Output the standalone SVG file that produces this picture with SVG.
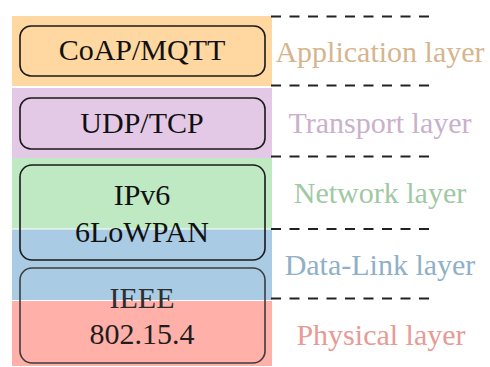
<svg xmlns="http://www.w3.org/2000/svg" width="490" height="367" viewBox="0 0 490 367">
<style>
.box{fill:none;stroke:#1a1a1a;stroke-width:1.6}
.low{stroke:#3c3c3c}
.t{font-family:"Liberation Serif","Times New Roman",serif;font-size:30px;text-anchor:middle;fill:#111}
.lbl{font-family:"Liberation Serif","Times New Roman",serif;font-size:30px;text-anchor:middle}
.dash{stroke:#222;stroke-width:2;stroke-dasharray:10 8.5;fill:none}
</style>
<rect width="490" height="367" fill="#fff"/>
<g id="bands">
<rect x="12" y="16" width="260" height="70" fill="#FFD7A1"/>
<rect x="12" y="88" width="260" height="70" fill="#E4C9E6"/>
<rect x="12" y="158" width="260" height="70.5" fill="#BEE9C3"/>
<rect x="12" y="229.5" width="260" height="70.5" fill="#A9CBE3"/>
<rect x="12" y="301" width="260" height="65" fill="#FFB0A8"/>
</g>
<g id="connectors">
<line class="dash" x1="271" y1="16.5" x2="430" y2="16.5"/>
<line class="dash" x1="271" y1="85.5" x2="430" y2="85.5"/>
<line class="dash" x1="271" y1="156.5" x2="430" y2="156.5"/>
<line class="dash" x1="271" y1="229" x2="430" y2="229"/>
<line class="dash" x1="271" y1="298.5" x2="430" y2="298.5"/>
</g>
<g id="coap">
<rect class="box" x="20" y="26" width="245" height="50" rx="11"/>
<text class="t" x="142" y="60">CoAP/MQTT</text>
</g>
<g id="udp">
<rect class="box" x="20" y="98" width="245" height="51" rx="11"/>
<text class="t" x="142" y="133">UDP/TCP</text>
</g>
<g id="ipv6">
<rect class="box" x="20" y="165" width="245" height="95" rx="12"/>
<text class="t" x="142" y="205">IPv6</text>
<text class="t" x="142" y="242" fill="#262626">6LoWPAN</text>
</g>
<g id="ieee">
<rect class="box low" x="20" y="268" width="245" height="95" rx="12"/>
<text class="t" x="142" y="308" style="fill:#2e2e2e">IEEE</text>
<text class="t" x="142" y="344" style="fill:#1e1e1e">802.15.4</text>
</g>
<g id="labels">
<text class="lbl" x="380" y="62" fill="#D6B58E">Application layer</text>
<text class="lbl" x="380" y="133" fill="#C9B0CC">Transport layer</text>
<text class="lbl" x="380" y="203" fill="#9FC9A3">Network layer</text>
<text class="lbl" x="380" y="275" fill="#8FB0C7">Data-Link layer</text>
<text class="lbl" x="381" y="345" fill="#E89A95">Physical layer</text>
</g>
</svg>
